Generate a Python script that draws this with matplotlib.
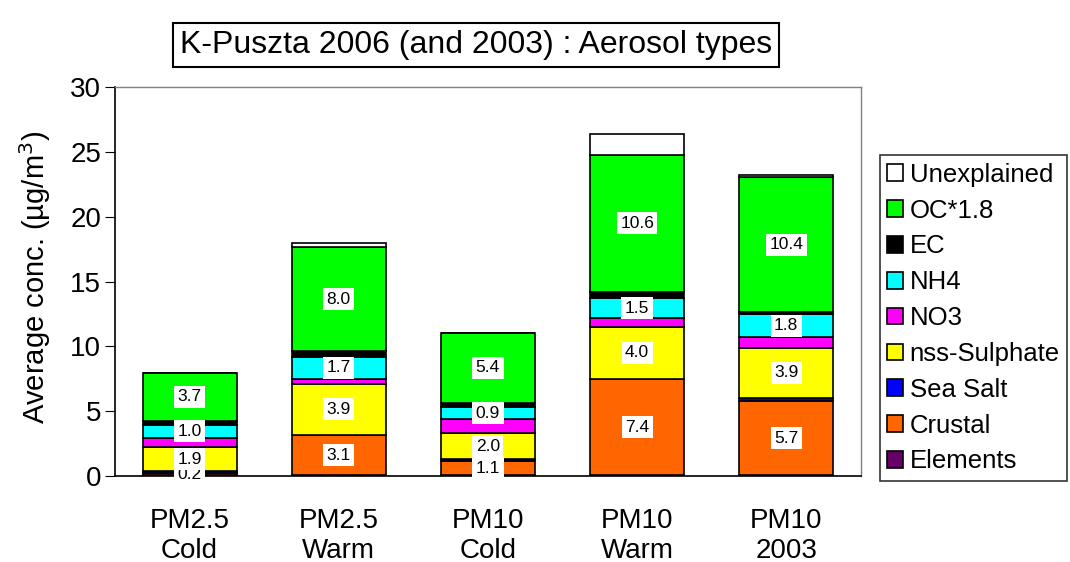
import matplotlib
matplotlib.use("Agg")
import matplotlib.pyplot as plt
import numpy as np

plt.rcParams['font.family'] = ['Liberation Sans', 'DejaVu Sans']

categories = ["PM2.5\nCold", "PM2.5\nWarm", "PM10\nCold", "PM10\nWarm", "PM10\n2003"]
components = ["Elements", "Crustal", "Sea Salt", "nss-Sulphate", "NO3", "NH4", "EC", "OC*1.8", "Unexplained"]
colors = ["#660066", "#FF6600", "#0000FF", "#FFFF00", "#FF00FF", "#00FFFF", "#000000", "#00FF00", "#FFFFFF"]

elements    = [0.05, 0.05, 0.05, 0.05, 0.05]
crustal     = [0.2, 3.1, 1.1, 7.4, 5.7]
sea_salt    = [0.1, 0.05, 0.15, 0.05, 0.25]
sulphate    = [1.9, 3.9, 2.0, 4.0, 3.9]
no3         = [0.7, 0.4, 1.1, 0.7, 0.8]
nh4         = [1.0, 1.7, 0.9, 1.5, 1.8]
ec          = [0.3, 0.45, 0.35, 0.5, 0.15]
oc          = [3.7, 8.0, 5.4, 10.6, 10.4]
unexplained = [0.0, 0.35, 0.0, 1.55, 0.15]

series = [elements, crustal, sea_salt, sulphate, no3, nh4, ec, oc, unexplained]
labelled = {"Crustal": crustal, "nss-Sulphate": sulphate, "NH4": nh4, "OC*1.8": oc}

fig = plt.figure(figsize=(10.7, 5.62), dpi=100)
ax = fig.add_axes([0.1075, 0.153, 0.697, 0.692])

x = np.arange(len(categories))
bottom = np.zeros(len(categories))
handles = []
for name, vals, col in zip(components, series, colors):
    vals = np.array(vals, dtype=float)
    b = ax.bar(x, vals, 0.63, bottom=bottom, color=col, edgecolor="black", linewidth=1.2, label=name)
    handles.append(b)
    if name in labelled:
        for xi, v, bt in zip(x, vals, bottom):
            ax.text(xi, bt + v / 2, f"{v:.1f}", ha="center", va="center", fontsize=12.5,
                    bbox=dict(facecolor="white", edgecolor="none", pad=2.5))
    bottom += vals

ax.set_xlim(-0.5, 4.5)
ax.set_ylim(0, 30)
ax.set_yticks(range(0, 31, 5))
ax.set_xticks(x)
ax.set_xticklabels(categories, fontsize=20, linespacing=1.2)
ax.tick_params(axis='y', labelsize=20, direction='out', length=7, pad=3)
ax.tick_params(axis='x', length=0, pad=23)
ax.set_ylabel("Average conc. (µg/m$^3$)", fontsize=21)
ax.yaxis.set_label_coords(-0.083, 0.51)
for s in ["top", "right"]:
    ax.spines[s].set_color("#808080")
    ax.spines[s].set_linewidth(1)
ax.spines["left"].set_linewidth(1.2)
ax.spines["bottom"].set_linewidth(1.2)

leg = fig.legend(handles[::-1], components[::-1], loc="upper left",
                 bbox_to_anchor=(0.822, 0.724), fontsize=18.5, frameon=True,
                 fancybox=False, edgecolor="black", handlelength=0.62, handleheight=0.62,
                 handletextpad=0.25, labelspacing=0.46, borderpad=0.3, borderaxespad=0)
leg.get_frame().set_linewidth(1.2)

fig.text(0.445, 0.92, "K-Puszta 2006 (and 2003) : Aerosol types", ha="center", va="center",
         fontsize=23, bbox=dict(facecolor="white", edgecolor="black", linewidth=1.5, pad=5))

fig.savefig("out.png", dpi=100)
